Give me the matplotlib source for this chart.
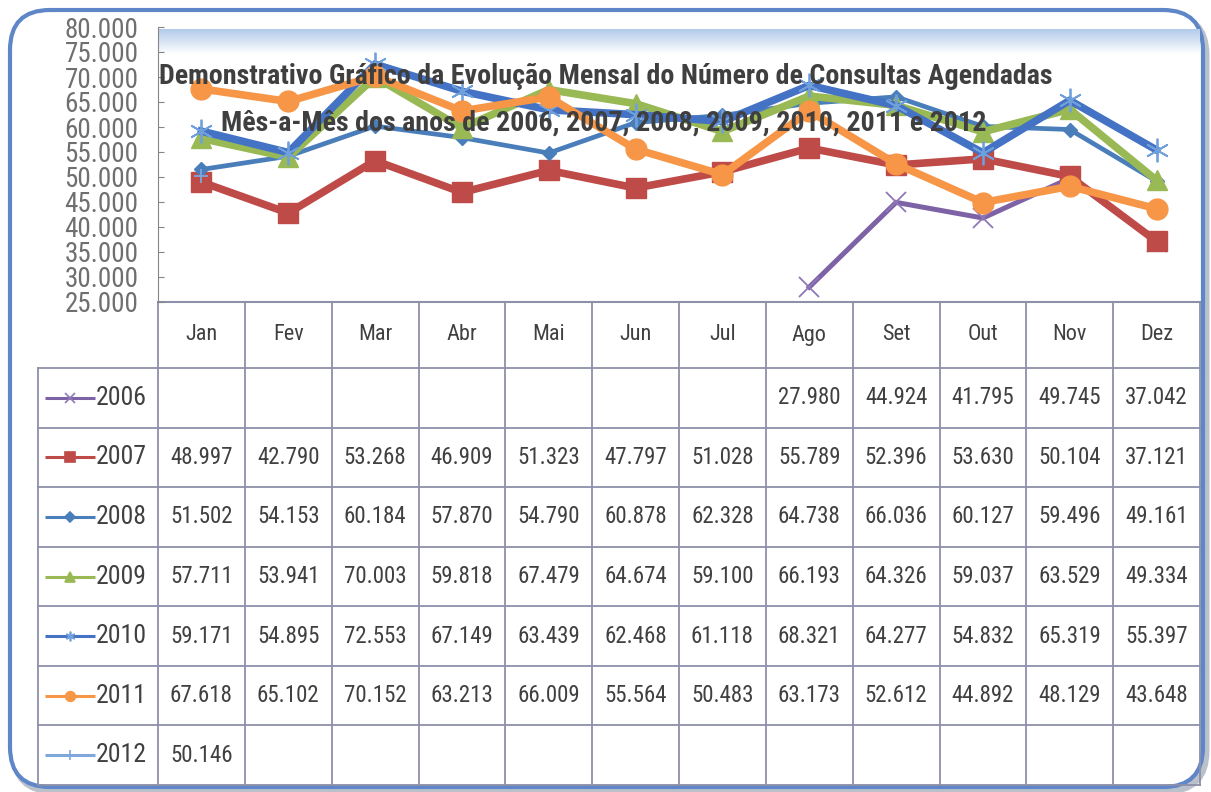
import numpy as np
import matplotlib
matplotlib.use("Agg")
import matplotlib.pyplot as plt
from matplotlib import font_manager
from matplotlib.patches import FancyBboxPatch
from matplotlib.ticker import FuncFormatter, MultipleLocator
from matplotlib.colors import LinearSegmentedColormap

# dados (numero de consultas agendadas por mes)
meses = ['Jan', 'Fev', 'Mar', 'Abr', 'Mai', 'Jun', 'Jul', 'Ago', 'Set', 'Out', 'Nov', 'Dez']
anos = ['2006', '2007', '2008', '2009', '2010', '2011', '2012']
nan = np.nan
v2006 = [nan, nan, nan, nan, nan, nan, nan, 27980, 44924, 41795, 49745, 37042]
v2007 = [48997, 42790, 53268, 46909, 51323, 47797, 51028, 55789, 52396, 53630, 50104, 37121]
v2008 = [51502, 54153, 60184, 57870, 54790, 60878, 62328, 64738, 66036, 60127, 59496, 49161]
v2009 = [57711, 53941, 70003, 59818, 67479, 64674, 59100, 66193, 64326, 59037, 63529, 49334]
v2010 = [59171, 54895, 72553, 67149, 63439, 62468, 61118, 68321, 64277, 54832, 65319, 55397]
v2011 = [67618, 65102, 70152, 63213, 66009, 55564, 50483, 63173, 52612, 44892, 48129, 43648]
v2012 = [50146, nan, nan, nan, nan, nan, nan, nan, nan, nan, nan, nan]
series = [v2006, v2007, v2008, v2009, v2010, v2011, v2012]

# estilo de cada serie: cor da linha, marcador, cor do marcador, espessura, tamanho
estilos = [
    ('#7e62a6', 'x', '#8f78b8', 3.6, 14),
    ('#be4b48', 's', '#be4b48', 5.5, 15),
    ('#4a7ebb', 'D', '#4a7ebb', 3.4, 7),
    ('#98b954', '^', '#98b954', 5.5, 15),
    ('#4472c4', (6, 2, 0), '#6fa0dc', 5.5, 17),
    ('#f79646', 'o', '#f79646', 5.5, 15),
    ('#7fa7dc', '+', '#7fa7dc', 2.0, 10),
]

# fonte estreita, se existir
disponiveis = {f.name for f in font_manager.fontManager.ttflist}
fonte = 'DejaVu Sans'
for nome in ['Liberation Sans Narrow', 'Roboto Condensed', 'Open Sans Condensed', 'DejaVu Sans Condensed']:
    if nome in disponiveis:
        fonte = nome
        break
plt.rcParams['font.family'] = [fonte, 'DejaVu Sans']

def fmt(v, pos=None):
    return f"{v:,.0f}".replace(',', '.')

W, H = 1211, 792
fig = plt.figure(figsize=(W / 100, H / 100), dpi=100)
fig.patch.set_facecolor('white')

# eixo de fundo em pixels: moldura e tabela
bg = fig.add_axes([0, 0, 1, 1], zorder=0)
bg.set_xlim(0, W)
bg.set_ylim(H, 0)
bg.axis('off')

sombra = FancyBboxPatch((14, 15), 1192, 776, boxstyle="round,pad=0,rounding_size=40",
                        fc='none', ec='#8f98a8', lw=5, alpha=0.6)
bg.add_patch(sombra)
moldura = FancyBboxPatch((10, 10), 1193, 777, boxstyle="round,pad=0,rounding_size=40",
                         fc='white', ec='#5f86c8', lw=3)
bg.add_patch(moldura)

x0, x1 = 158, 1200
cw = (x1 - x0) / 12
y_top, y_head, y_end = 302, 368, 785
rh = (y_end - y_head) / len(anos)
grade = '#8c90a8'
texto = '#404040'

bg.plot([x0, x1], [y_top, y_top], color=grade, lw=1.5)
for k in range(len(anos) + 1):
    y = y_head + k * rh
    bg.plot([38, x1], [y, y], color=grade, lw=1.3)
for i in range(13):
    x = x0 + i * cw
    bg.plot([x, x], [y_top, y_end], color=grade, lw=1.3)
bg.plot([38, 38], [y_head, y_end], color=grade, lw=1.3)

for i, m in enumerate(meses):
    bg.text(x0 + (i + 0.5) * cw, (y_top + y_head) / 2, m, ha='center', va='center',
            fontsize=16, color=texto)

for k, (ano, vals, est) in enumerate(zip(anos, series, estilos)):
    yc = y_head + (k + 0.5) * rh
    cor, mk, mcor, lw, ms = est
    bg.plot([45, 95], [yc, yc], color=cor, lw=2.2, solid_capstyle='butt')
    bg.plot([70], [yc], marker=mk, color=mcor, ms=7 if mk != 'D' else 5, mew=1.2)
    bg.text(96, yc, ano, ha='left', va='center', fontsize=18.5, color=texto)
    for i, v in enumerate(vals):
        if not np.isnan(v):
            bg.text(x0 + (i + 0.5) * cw, yc, fmt(v), ha='center', va='center',
                    fontsize=16.5, color=texto)

# grafico de linhas
ax = fig.add_axes([x0 / W, 1 - y_top / H, (x1 - x0) / W, (y_top - 27) / H], zorder=1)
ax.set_facecolor('none')
ax.set_xlim(-0.5, 11.5)
ax.set_ylim(25000, 80000)

faixa = LinearSegmentedColormap.from_list('faixa', ['#ffffff', '#d7e4f4', '#b3cbea'])
grad = np.linspace(0, 1, 50).reshape(-1, 1)
ax.imshow(grad, cmap=faixa, aspect='auto', origin='lower',
          extent=(-0.5, 11.5, 74500, 79500), zorder=0)

xs = np.arange(len(meses))
for vals, est in zip(series, estilos):
    cor, mk, mcor, lw, ms = est
    ax.plot(xs, vals, color=cor, lw=lw, marker=mk, ms=ms, mfc=mcor, mec=mcor,
            mew=1.3 if mk in ('x', '+', (6, 2, 0)) else 1, zorder=2, solid_joinstyle='miter')

ax.yaxis.set_major_locator(MultipleLocator(5000))
ax.yaxis.set_major_formatter(FuncFormatter(fmt))
ax.tick_params(axis='y', direction='in', length=4, color='#868686', labelsize=19.5,
               labelcolor='#6f6f6f', pad=14)
ax.set_xticks([])
for s in ['top', 'right', 'bottom']:
    ax.spines[s].set_visible(False)
ax.spines['left'].set_color('#868686')

ax.text(0.43, 0.82, 'Demonstrativo Gráfico da Evolução Mensal do Número de Consultas Agendadas',
        transform=ax.transAxes, ha='center', va='center', fontsize=20.2, fontweight='bold',
        color='#3f3f3f', zorder=5)
ax.text(0.428, 0.652, 'Mês-a-Mês dos anos de 2006, 2007, 2008, 2009, 2010, 2011 e 2012',
        transform=ax.transAxes, ha='center', va='center', fontsize=20.2, fontweight='bold',
        color='#3f3f3f', zorder=5)

fig.savefig('out.png', dpi=100)
